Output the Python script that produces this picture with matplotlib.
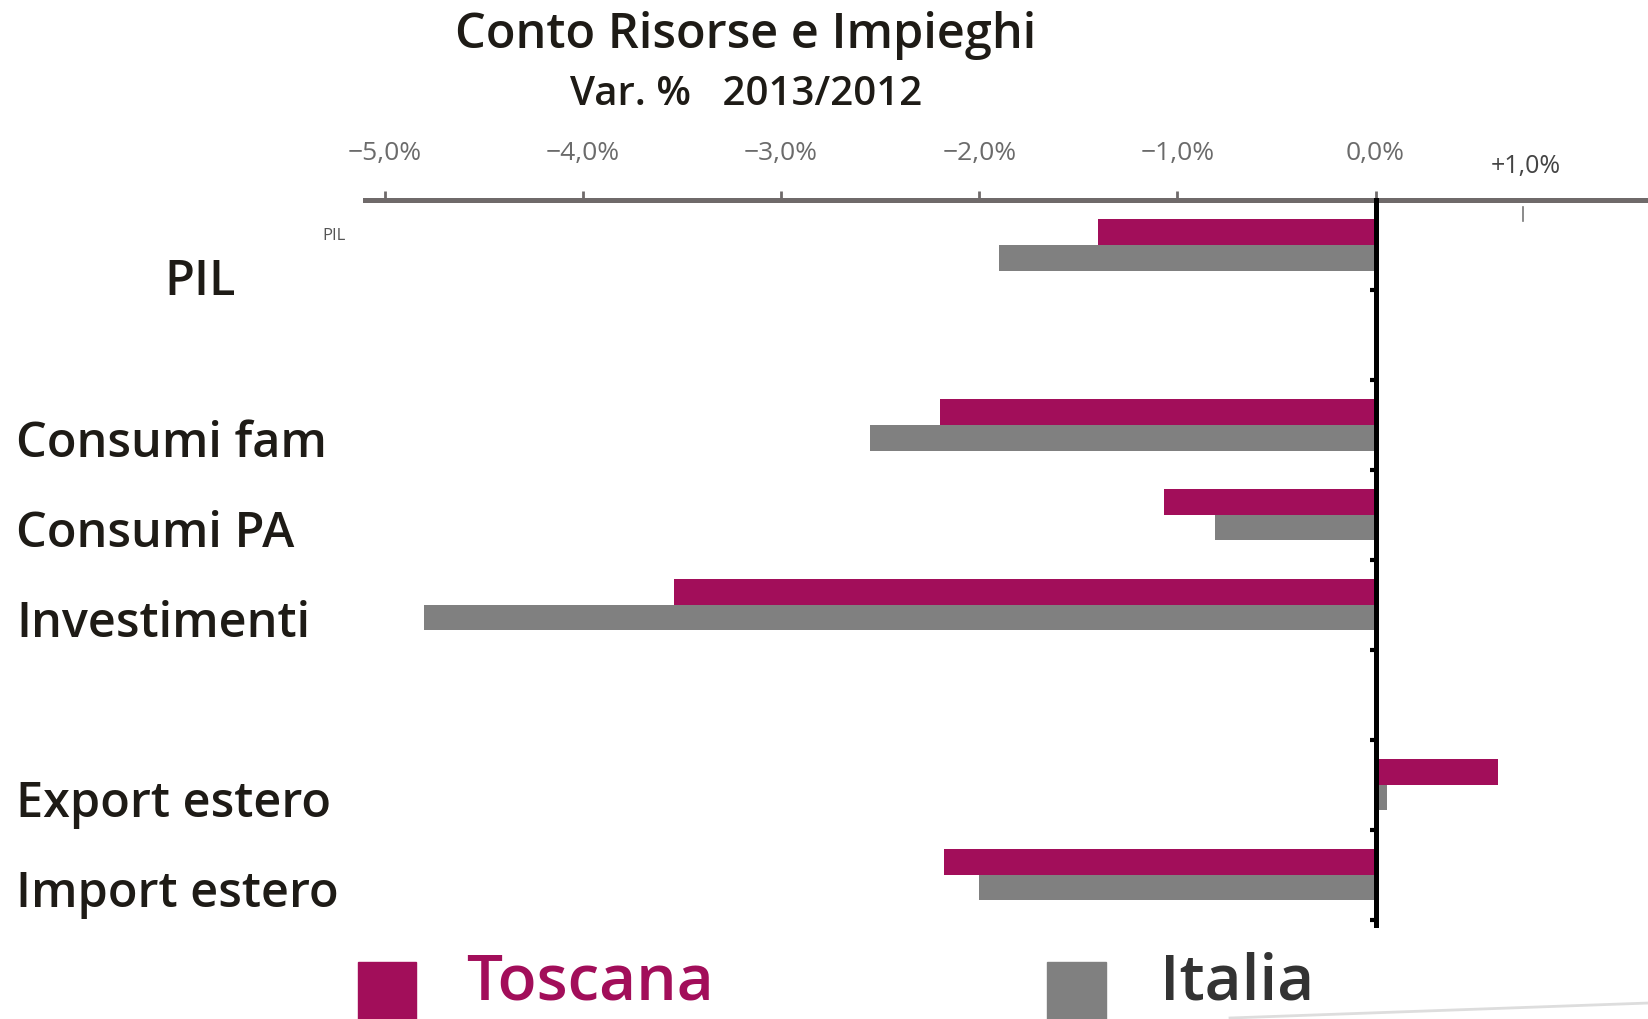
import numpy as np
import matplotlib.pyplot as plt
import matplotlib.transforms as mtransforms
from matplotlib.patches import Rectangle
from matplotlib.lines import Line2D

categories = ["PIL", "Consumi fam", "Consumi PA", "Investimenti", "Export estero", "Import estero"]
slots = [0, 2, 3, 4, 6, 7]
toscana = [-1.4, -2.2, -1.07, -3.54, 0.62, -2.18]
italia = [-1.9, -2.55, -0.81, -4.8, 0.06, -2.0]
xticks = [-5, -4, -3, -2, -1, 0]
xticklabels = ["\u22125,0%", "\u22124,0%", "\u22123,0%", "\u22122,0%", "\u22121,0%", "0,0%"]

c_tos = "#a20e5a"
c_ita = "#808080"
c_axis = "#6f6a6a"
c_text = "#1e1b16"

plt.rcParams["font.family"] = ["Open Sans", "DejaVu Sans"]

W, H = 1649, 1019
fig = plt.figure(figsize=(W / 100, H / 100), dpi=100)
ax = fig.add_axes([365 / W, 1 - 925 / H, 1 - 365 / W, (925 - 200) / H])

y = np.array(slots, dtype=float)
h = 0.285
ax.barh(y - h / 2, toscana, height=h, color=c_tos, zorder=2)
ax.barh(y + h / 2, italia, height=h, color=c_ita, zorder=2)

ax.set_xlim(-5.1, 1.38)
ax.set_ylim(7.56, -0.5)

# top axis
ax.spines["bottom"].set_visible(False)
ax.spines["right"].set_visible(False)
ax.spines["top"].set_color(c_axis)
ax.spines["top"].set_linewidth(3.6)
ax.spines["left"].set_position(("data", 0))
ax.spines["left"].set_color("black")
ax.spines["left"].set_linewidth(3.6)
ax.spines["left"].set_zorder(3)

ax.xaxis.tick_top()
ax.set_xticks(xticks)
ax.set_xticklabels(xticklabels)
ax.tick_params(axis="x", direction="out", length=6.5, width=2, color=c_axis,
               pad=18, labelsize=19, labelcolor="#6b6b6b")

ax.set_yticks(np.arange(0.5, 8, 1.0))
ax.set_yticklabels([])
ax.tick_params(axis="y", direction="out", length=4.5, width=3, color="black")

# odd +1,0% label
bt = mtransforms.blended_transform_factory(ax.transData, ax.transAxes)
ax.text(0.76, 1.046, "+1,0%", transform=bt, ha="center", va="center",
        fontsize=18, color="#444444", clip_on=False)
ax.add_line(Line2D([0.745, 0.745], [0.971, 0.990], transform=bt,
                   color="#777777", lw=1.2, clip_on=False))

# category labels
lt = mtransforms.blended_transform_factory(fig.transFigure, ax.transData)
for cat, s in zip(categories, slots):
    if cat == "PIL":
        ax.text(200 / W, s + 0.42, cat, transform=lt, ha="center", va="center",
                fontsize=35, fontweight="semibold", color=c_text, clip_on=False)
    else:
        ax.text(16 / W, s + 0.22, cat, transform=lt, ha="left", va="center",
                fontsize=35, fontweight="semibold", color=c_text, clip_on=False)

fig.text(334 / W, 1 - 236 / H, "PIL", ha="center", va="center",
         fontsize=12, color="#555555")

# titles
fig.text(746 / W, 1 - 35 / H, "Conto Risorse e Impieghi", ha="center", va="center",
         fontsize=35, fontweight="semibold", color=c_text)
fig.text(746 / W, 1 - 95 / H, "Var. %   2013/2012", ha="center", va="center",
         fontsize=29, fontweight="semibold", color=c_text)

# legend
fig.add_artist(Rectangle((358 / W, 0), 58 / W, (H - 962) / H,
                         transform=fig.transFigure, color=c_tos))
fig.text(466 / W, 1 - 1000 / H, "Toscana", ha="left", va="baseline",
         fontsize=46, fontweight="semibold", color=c_tos)
fig.add_artist(Rectangle((1047 / W, 0), 59 / W, (H - 962) / H,
                         transform=fig.transFigure, color=c_ita))
fig.text(1160 / W, 1 - 1000 / H, "Italia", ha="left", va="baseline",
         fontsize=46, fontweight="semibold", color="#333333")

fig.add_artist(Line2D([1230 / W, 1.0], [1 - 1018 / H, 1 - 1003 / H],
                      transform=fig.transFigure, color="#dddddd", lw=2))

fig.savefig("out.png", dpi=100)
